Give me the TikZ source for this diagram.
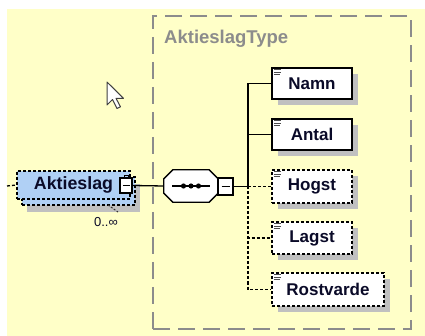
\documentclass[tikz,border=0pt]{standalone}
\usepackage{fontspec}
\setmainfont{Liberation Sans}
\usetikzlibrary{shadows}
\definecolor{bgyellow}{RGB}{255,255,200}
\definecolor{elblue}{RGB}{176,208,245}
\definecolor{shadowgray}{RGB}{192,192,192}
\definecolor{grpgray}{RGB}{140,140,140}
\definecolor{txtdark}{RGB}{10,10,40}
\begin{document}
\begin{tikzpicture}[x=1pt,y=-1pt,
  namefont/.style={font=\fontsize{17}{20}\selectfont\bfseries},
  conn/.style={draw=black, line width=1.3pt},
  optdash/.style={dash pattern=on 3pt off 2pt},
  elem/.style={draw=black, line width=1.3pt, fill=white, inner sep=0pt, namefont, text=txtdark,
    drop shadow={shadow xshift=6pt, shadow yshift=-6pt, fill=shadowgray, draw=none, opacity=1}},
  optelem/.style={elem, optdash},
  btn/.style={draw=black, line width=1.2pt, fill=white, inner sep=0pt},
  docline/.style={line width=0.8pt, draw=black!70},
  octo/.style={insert path={
    ([xshift=9pt]seq.north west) -- ([xshift=-9pt]seq.north east) -- ([yshift=-9pt]seq.north east)
    -- ([yshift=9pt]seq.south east) -- ([xshift=-9pt]seq.south east) -- ([xshift=9pt]seq.south west)
    -- ([yshift=9pt]seq.south west) -- ([yshift=-9pt]seq.north west) -- cycle}},
]
\fill[white] (0,0) rectangle (425,336);
\fill[bgyellow] (7,9) rectangle (425,336);
\useasboundingbox (0,0) rectangle (425,336);

% group box
\node[draw=grpgray, line width=1.3pt, dash pattern=on 17pt off 8pt, minimum width=258, minimum height=313, inner sep=0pt] (grp) at (282,172.5) {};
\node[anchor=west, text=grpgray, font=\fontsize{18.5}{21}\selectfont\bfseries, inner sep=0pt] (title) at (164,38.5) {AktieslagType};

% children
\node[elem, minimum width=80, minimum height=31] (namn) at (312,83.5) {Namn};
\node[elem, minimum width=80, minimum height=31] (antal) at (312,134.5) {Antal};
\node[optelem, minimum width=80, minimum height=33] (hogst) at (312,186.5) {Hogst};
\node[optelem, minimum width=80, minimum height=32] (lagst) at (312,238) {Lagst};
\node[optelem, minimum width=112, minimum height=33] (rost) at (328,289.5) {Rostvarde};

\foreach \n in {namn,antal,hogst,lagst,rost}{
  \foreach \dy/\len in {2.5/7,5/7,7.5/6}{
    \draw[docline] ([shift={(3,\dy)}]\n.north west) -- ++(\len,0);
  }
}

% Aktieslag element (repeated)
\node[draw=black, line width=1.3pt, optdash, fill=elblue, minimum width=113, minimum height=28,
  inner sep=0pt, font=\fontsize{17.8}{20}\selectfont\bfseries, text=txtdark,
  drop shadow={shadow xshift=10pt, shadow yshift=-13pt, fill=shadowgray, draw=none, opacity=1},
  copy shadow={shadow xshift=5pt, shadow yshift=-6pt, fill=elblue, draw=black, line width=1.3pt, dash pattern=on 3pt off 2pt}]
  (akt) at (73.5,185) {Aktieslag\hspace{7pt}};
\node[btn, minimum width=12, minimum height=15] (aktbtn) at (126,185.5) {};
\draw[line width=1.2pt] ([xshift=-3.5pt]aktbtn.center) -- ([xshift=3.5pt]aktbtn.center);
\draw[line width=1pt] ([xshift=-2pt]aktbtn.north) -- ++(0,-2) -- ++(4,0) -- ++(0,2);

\node[font=\fontsize{13}{15}\selectfont, text=txtdark, inner sep=0pt] (card) at (106,222) {0..∞};
\coordinate (cardA) at (108,205);
\coordinate (cardB) at (118,212);
\draw[line width=1pt, draw=black!80, dash pattern=on 2pt off 1.5pt] (cardA) -- (cardB);

% sequence compositor
\node[minimum width=54, minimum height=32, inner sep=0pt] (seq) at (191,186) {};
\fill[shadowgray, shift={(6,6)}] [octo];
\filldraw[fill=white, draw=black, line width=1.3pt, line join=miter] [octo];
\draw[line width=1.2pt] ([xshift=-19pt]seq.center) -- ([xshift=19pt]seq.center);
\foreach \dx in {-7.5,0,7.5}{ \fill ([xshift=\dx pt]seq.center) circle (2.6); }
\node[btn, minimum width=15, minimum height=17] (seqbtn) at (225.5,186.5) {};
\draw[line width=1.2pt] ([xshift=-4pt]seqbtn.center) -- ([xshift=4pt]seqbtn.center);

% connectors
\coordinate (stub) at (7,186);
\coordinate (jn) at (248,186.5);
\draw[conn, optdash] (stub) -- (akt.west);
\draw[conn] (aktbtn.east) -- (seq.west);
\draw[conn] (seqbtn.east) -- (jn);
\draw[conn] (jn) |- (namn.west);
\draw[conn] (jn) |- (antal.west);
\draw[conn, optdash] (jn) -- (hogst.west);
\draw[conn, optdash] (jn) |- (lagst.west);
\draw[conn, optdash] (jn) |- (rost.west);

% mouse cursor
\draw[fill=white, draw=black!75, line width=1pt, line join=round]
  (107,82) -- ++(0,23) -- ++(5.5,-5.5) -- ++(4.5,9) -- ++(3.5,-1.7) -- ++(-4.5,-8.5) -- ++(7.5,0) -- cycle;
\end{tikzpicture}
\end{document}
